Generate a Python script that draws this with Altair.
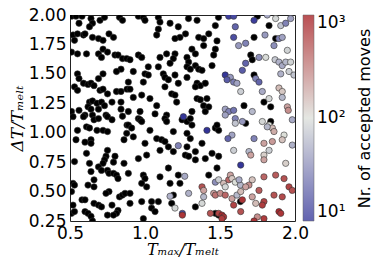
import altair as alt
import pandas as pd

# black points (fewer than 10 accepted moves)
black_pts = [
(0.51,1.99),(0.54,1.99),(0.58,1.99),(0.56,1.93),(0.64,1.97),(0.65,1.93),(0.63,1.90),(0.70,1.955),(0.73,1.98),(0.83,1.98),(0.85,1.955),
(0.52,1.83),(0.55,1.84),(0.59,1.83),(0.60,1.84),(0.53,1.785),(0.65,1.81),(0.69,1.80),(0.76,1.84),(0.79,1.81),(0.72,1.785),
(0.51,1.685),(0.55,1.67),(0.61,1.67),(0.69,1.67),(0.71,1.64),(0.72,1.71),(0.75,1.685),(0.80,1.66),(0.82,1.66),(0.85,1.63),
(0.84,1.54),(0.81,1.52),(0.55,1.50),(0.56,1.46),(0.72,1.50),(0.59,1.42),(0.62,1.41),(0.64,1.42),(0.66,1.40),(0.69,1.46),
(0.53,1.39),(0.55,1.36),(0.70,1.36),(0.72,1.37),(0.75,1.33),(0.81,1.35),(0.84,1.35),(0.88,1.37),(0.63,1.26),(0.65,1.27),
(0.68,1.25),(0.71,1.26),(0.73,1.23),(0.78,1.26),(0.84,1.26),(0.62,1.22),(0.64,1.20),(0.69,1.20),(0.84,1.20),(0.51,1.18),
(0.56,1.19),(0.60,1.15),(0.65,1.15),(0.74,1.15),(0.85,1.14),
(0.52,1.136),(0.59,1.136),(0.66,1.11),(0.69,1.12),(0.75,1.136),(0.78,1.11),(0.88,1.065),(0.55,1.02),(0.61,1.05),(0.63,1.04),
(0.68,1.02),(0.72,1.02),(0.75,1.01),(0.86,0.94),(0.54,0.94),(0.60,0.92),(0.64,0.94),(0.64,0.91),(0.75,0.85),(0.74,0.80),
(0.73,0.77),(0.72,0.74),(0.80,0.80),(0.79,0.75),(0.61,0.825),(0.53,0.755),(0.63,0.74),(0.69,0.71),(0.71,0.68),(0.75,0.68),
(0.76,0.655),(0.79,0.655),(0.81,0.64),(0.82,0.61),(0.86,0.74),(0.64,0.67),(0.52,0.57),(0.53,0.555),(0.62,0.555),(0.66,0.60),
(0.66,0.54),(0.76,0.50),(0.74,0.485),(0.83,0.455),(0.85,0.47),(0.51,0.50),(0.58,0.43),(0.60,0.43),(0.66,0.40),(0.69,0.385),
(0.71,0.37),(0.78,0.385),(0.82,0.34),(0.81,0.315),(0.75,0.30),(0.79,0.30),(0.52,0.385),(0.51,0.315),(0.53,0.33),(0.60,0.33),
(0.62,0.315),(0.64,0.29),(0.65,0.25),
(0.956,1.99),(0.989,1.98),(1.0,1.955),(1.089,1.98),(1.10,1.94),(1.089,1.88),(1.078,1.83),(1.167,1.93),(1.222,1.90),(1.233,1.81),
(1.20,1.80),(0.878,1.63),(0.90,1.62),(0.956,1.66),(0.978,1.64),(1.10,1.64),(1.144,1.67),(1.20,1.67),(1.189,1.63),(1.167,1.59),
(1.022,1.56),(1.089,1.56),(1.122,1.50),(1.133,1.47),(1.156,1.45),(1.0,1.50),(1.022,1.49),(0.989,1.43),(0.922,1.52),(0.889,1.43),
(0.90,1.37),(1.20,1.49),(1.222,1.42),(1.133,1.39),(1.178,1.33),(1.20,1.32),(1.211,1.26),(0.922,1.30),(0.978,1.32),(1.033,1.29),
(1.078,1.23),(0.889,1.18),(0.967,1.18),(1.067,1.16),(1.144,1.15),
(0.956,1.12),(0.967,1.11),(0.978,1.095),(0.889,1.065),(0.911,1.04),(0.878,0.995),(0.922,0.965),(1.033,1.02),(1.133,1.12),(1.144,1.095),
(1.189,1.01),(1.078,0.95),(1.111,0.94),(1.133,0.925),(1.0,0.91),(1.156,0.88),(1.10,0.85),(1.189,0.84),(0.956,0.78),(1.011,0.81),
(0.889,0.655),(0.989,0.64),(1.0,0.61),(0.978,0.57),(1.011,0.54),(1.10,0.625),(1.156,0.70),(1.222,0.64),(1.233,0.57),(1.167,0.57),
(0.867,0.485),(0.90,0.485),(0.90,0.40),(0.978,0.415),(1.044,0.415),(1.089,0.415),(1.044,0.36),(1.067,0.33),(1.178,0.40),(1.189,0.47),
(0.989,0.27),
(1.29,1.97),(1.347,1.955),(1.49,1.98),(1.469,1.91),(1.27,1.84),(1.358,1.81),(1.391,1.80),(1.425,1.84),(1.48,1.78),(1.391,1.74),
(1.469,1.71),(1.458,1.66),(1.313,1.71),(1.336,1.67),(1.28,1.64),(1.291,1.60),(1.28,1.56),(1.336,1.57),(1.358,1.54),(1.302,1.54),
(1.28,1.47),(1.447,1.57),(1.38,1.53),(1.347,1.42),(1.369,1.40),(1.402,1.42),(1.336,1.39),(1.347,1.29),(1.369,1.28),(1.413,1.29),
(1.391,1.23),(1.425,1.22),(1.313,1.18),(1.402,1.18),
(1.247,1.11),(1.28,1.095),(1.302,1.12),(1.313,1.065),(1.469,1.04),(1.491,1.02),(1.48,1.065),(1.28,0.995),(1.302,0.95),(1.28,0.88),
(1.269,0.81),(1.291,0.80),(1.336,0.84),(1.336,0.77),(1.38,0.91),(1.402,0.78),(1.447,0.825),(1.491,0.80),(1.48,0.70),(1.425,0.64),
(1.636,0.415),(1.336,0.37),(1.469,0.315),(1.491,0.30),
(1.749,1.99),(1.827,1.91),(1.727,1.81),(1.871,1.80),(1.705,1.66),(1.715,1.62),(1.727,1.49),(1.793,1.26),(1.838,1.22),(1.66,1.23),
(1.671,1.08),(1.838,1.095),
]

# coloured points: (T_max/T_melt, dT/T_melt, accepted moves)
color_pts = [
(1.256,1.136,11),(1.222,0.89,30),(1.265,0.63,50),(1.291,0.485,55),(1.167,0.46,55),(1.20,0.36,90),(1.249,0.315,15),(1.249,0.30,700),
(1.558,1.99,12),(1.591,1.99,14),(1.602,1.90,20),(1.591,1.81,15),(1.624,1.74,40),(1.535,1.49,11),(1.569,1.47,40),(1.547,1.45,18),
(1.591,1.43,28),(1.613,1.42,45),(1.535,1.20,45),(1.558,1.18,30),(1.591,1.19,25),
(1.727,1.955,12),(1.815,2.0,50),(1.871,1.97,90),(1.905,1.91,70),(1.938,1.93,30),(1.971,1.97,45),(1.80,1.83,40),(1.893,1.80,30),
(1.915,1.81,45),(1.949,1.70,85),(1.86,1.74,35),(1.671,1.76,30),(1.76,1.64,35),(1.805,1.64,95),(1.867,1.62,75),(1.893,1.60,55),
(1.915,1.57,50),(1.938,1.60,60),(1.971,1.60,85),(1.905,1.50,55),(1.96,1.52,80),(1.993,1.49,70),(1.649,1.53,18),(1.671,1.59,20),
(1.738,1.46,30),(1.76,1.43,20),(1.638,1.35,80),(1.782,1.35,50),(1.827,1.29,90),(1.893,1.38,150),(1.915,1.35,130),(1.915,1.30,60),
(1.949,1.22,200),(1.955,1.19,250),(1.715,1.18,60),
(1.413,1.02,10.5),(1.535,1.15,45),(1.602,1.12,30),(1.602,1.08,70),(1.58,0.98,45),(1.553,0.95,20),(1.591,0.85,80),(1.38,0.54,500),
(1.391,0.51,200),(1.391,0.455,60),(1.38,0.40,90),(1.469,0.58,35),(1.491,0.60,80),(1.524,0.57,150),(1.535,0.54,90),(1.558,0.60,400),
(1.569,0.64,200),(1.58,0.61,130),(1.602,0.58,100),(1.636,0.555,60),(1.458,0.485,200),(1.469,0.47,350),(1.502,0.485,250),(1.535,0.47,400),
(1.58,0.44,200),(1.591,0.385,600),(1.613,0.47,60),(1.436,0.315,500),(1.491,0.315,600),(1.513,0.30,800),(1.524,0.285,700),(1.513,0.27,650),
(1.649,1.095,40),(1.782,1.095,90),(1.827,1.065,100),(1.849,1.04,150),(1.86,1.01,180),(1.815,1.05,60),(1.982,1.11,50),(1.927,0.98,100),
(1.915,0.94,140),(1.727,0.95,30),(1.793,0.91,200),(1.849,0.925,220),(1.982,0.895,55),(1.827,0.85,80),(1.693,0.84,60),(1.705,0.81,200),
(1.793,0.81,120),(1.793,0.77,200),(1.638,0.725,11),(1.938,0.74,120),(1.627,0.60,50),(1.715,0.60,140),(1.693,0.555,250),(1.671,0.54,200),
(1.793,0.625,400),(1.871,0.64,450),(1.927,0.61,500),(1.96,0.54,600),(1.982,0.51,500),(1.76,0.51,450),(1.638,0.50,150),(1.715,0.455,200),
(1.86,0.47,500),(1.915,0.455,550),(1.649,0.43,700),(1.793,0.415,600),(1.782,0.385,650),(1.738,0.40,150),(1.638,0.33,500),(1.749,0.285,250),
(1.893,0.33,800),(1.905,0.315,700),(1.727,0.25,700),(1.793,0.27,650),
]

x_ticks = [0.5, 1.0, 1.5, 2.0]
y_ticks = [0.25, 0.5, 0.75, 1.0, 1.25, 1.5, 1.75, 2.0]
cbar_ticks = [10, 100, 1000]
cbar_title = "Nr. of accepted moves"

rows = [{"tmax": x, "dt": y, "n": 1.0} for x, y in black_pts]
rows += [{"tmax": x, "dt": y, "n": float(n)} for x, y, n in color_pts]
df = pd.DataFrame(rows)

x_scale = alt.Scale(domain=[0.5, 2.0], nice=False, zero=False)
y_scale = alt.Scale(domain=[0.25, 2.0], nice=False, zero=False)
color_scale = alt.Scale(type="log", domain=[10, 100, 1000], interpolate="rgb",
                        range=["#2e2f96", "#dcdfd9", "#a3161a"], clamp=True)

legend = alt.Legend(
    orient="none", legendX=233, legendY=0, direction="vertical",
    gradientLength=206, gradientThickness=11, gradientOpacity=0.75,
    gradientStrokeColor="#333333", gradientStrokeWidth=0.5,
    values=cbar_ticks,
    labelExpr="datum.value == 10 ? '10¹' : datum.value == 100 ? '10²' : '10³'",
    labelFont="DejaVu Sans", labelFontSize=17, labelColor="black",
    labelOffset=3, labelBaseline="middle",
    title=None,
)

points = alt.Chart(df).mark_point(
    filled=True, shape="circle", size=40, opacity=1,
    stroke="#333333", strokeWidth=0.6, clip=True
).encode(
    x=alt.X("tmax:Q", scale=x_scale,
            axis=alt.Axis(values=x_ticks, format=".1f", title="Tₘₐₓ/Tₘₑₗₜ",
                          grid=False, ticks=False, domain=False, labelPadding=4,
                          labelFlush=False,
                          labelFont="DejaVu Sans", labelFontSize=17, labelColor="black",
                          titleFont="DejaVu Serif", titleFontStyle="italic",
                          titleFontWeight="normal", titleFontSize=16, titleColor="black",
                          titlePadding=0)),
    y=alt.Y("dt:Q", scale=y_scale,
            axis=alt.Axis(values=y_ticks, format=".2f", title="ΔT/Tₘₑₗₜ",
                          grid=False, ticks=False, domain=False, labelPadding=4,
                          labelFlush=False,
                          labelFont="DejaVu Sans", labelFontSize=17, labelColor="black",
                          titleFont="DejaVu Serif", titleFontStyle="italic",
                          titleFontWeight="normal", titleFontSize=17, titleColor="black",
                          titlePadding=2)),
    color=alt.condition(alt.datum.n < 10, alt.value("black"),
                        alt.Color("n:Q", scale=color_scale, legend=legend)),
)

# carrier for the colour-bar title on a right-hand axis
title_layer = alt.Chart(df).mark_point(opacity=0).encode(
    y=alt.Y("dt:Q", scale=y_scale,
            axis=alt.Axis(orient="right", title=cbar_title, labels=False, ticks=False,
                          domain=False, grid=False, titleAngle=270, titlePadding=77,
                          titleFont="DejaVu Sans", titleFontSize=16,
                          titleFontWeight="normal", titleColor="black")),
)

chart = alt.layer(points, title_layer).resolve_scale(y="independent").properties(
    width=225, height=206,
    autosize=alt.AutoSizeParams(type="none"),
    padding={"left": 62, "top": 7, "right": 78, "bottom": 38},
).configure_view(stroke="#222222", strokeWidth=1)

chart.save("out.html", embed_options={"renderer": "svg", "actions": False})
